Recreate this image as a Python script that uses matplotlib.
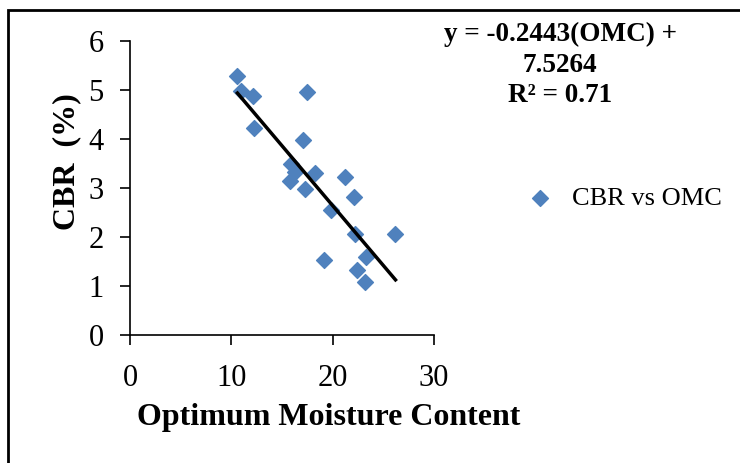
import matplotlib.pyplot as plt
import numpy as np
from matplotlib.patches import Rectangle

# data
omc = [10.6, 11.0, 12.1, 17.5, 12.2, 17.1, 15.9, 16.3, 15.8, 18.3,
       17.3, 21.2, 22.1, 19.8, 22.2, 26.2, 19.1, 23.3, 22.4, 23.2]
cbr = [5.28, 4.97, 4.87, 4.95, 4.22, 3.98, 3.48, 3.32, 3.14, 3.31,
       2.98, 3.23, 2.82, 2.56, 2.07, 2.06, 1.54, 1.59, 1.33, 1.09]
slope = -0.2443
intercept = 7.5264
r2 = 0.71

plt.rcParams['font.family'] = ['Liberation Serif', 'DejaVu Serif']

fig = plt.figure(figsize=(7.4, 4.63), dpi=100)
W, H = 740, 463
ax = fig.add_axes([130 / W, 1 - 335 / H, (434 - 130) / W, (335 - 41) / H])

ax.scatter(omc, cbr, marker='D', s=65, color='#4F81BD', zorder=3,
           label='CBR vs OMC')
xs = np.array([min(omc), max(omc)])
ax.plot(xs, slope * xs + intercept, color='black', lw=2.5, zorder=4)

ax.set_xlim(0, 30)
ax.set_ylim(0, 6)
ax.set_xticks([0, 10, 20, 30])
ax.set_yticks(range(7))
for s in ['top', 'right']:
    ax.spines[s].set_visible(False)
for s in ['left', 'bottom']:
    ax.spines[s].set_linewidth(1.2)
ax.tick_params(direction='out', length=7, width=1.2, labelsize=22)
ax.tick_params(axis='y', pad=12)
ax.tick_params(axis='x', pad=14)

ax.set_xlabel('Optimum Moisture Content', fontsize=23, fontweight='bold')
ax.xaxis.set_label_coords((329 - 130) / 304, -(418 - 335) / 294)
ax.xaxis.label.set_va('center')
ax.set_ylabel('CBR  (%)', fontsize=23, fontweight='bold')
ax.yaxis.set_label_coords((67 - 130) / 304, (335 - 162) / 294)
ax.yaxis.label.set_va('center')

fig.text(560 / W, 1 - 65 / H,
         f'y = {slope}(OMC) +\n{intercept}\nR\u00b2 = {r2}',
         ha='center', va='center', fontsize=19.5, fontweight='bold',
         linespacing=1.3)

ax.legend(loc='center left', bbox_to_anchor=(511 / W, 1 - 198 / H),
          bbox_transform=fig.transFigure, frameon=False, fontsize=19,
          handletextpad=0.6, handlelength=1.2, borderpad=0,
          scatterpoints=1, markerscale=1.0)

fig.patches.append(Rectangle((8 / W, -0.1), 1.2, 1.1 - 10 / H,
                             transform=fig.transFigure, fill=False,
                             edgecolor='black', lw=2))

fig.savefig('out.png', dpi=100)
